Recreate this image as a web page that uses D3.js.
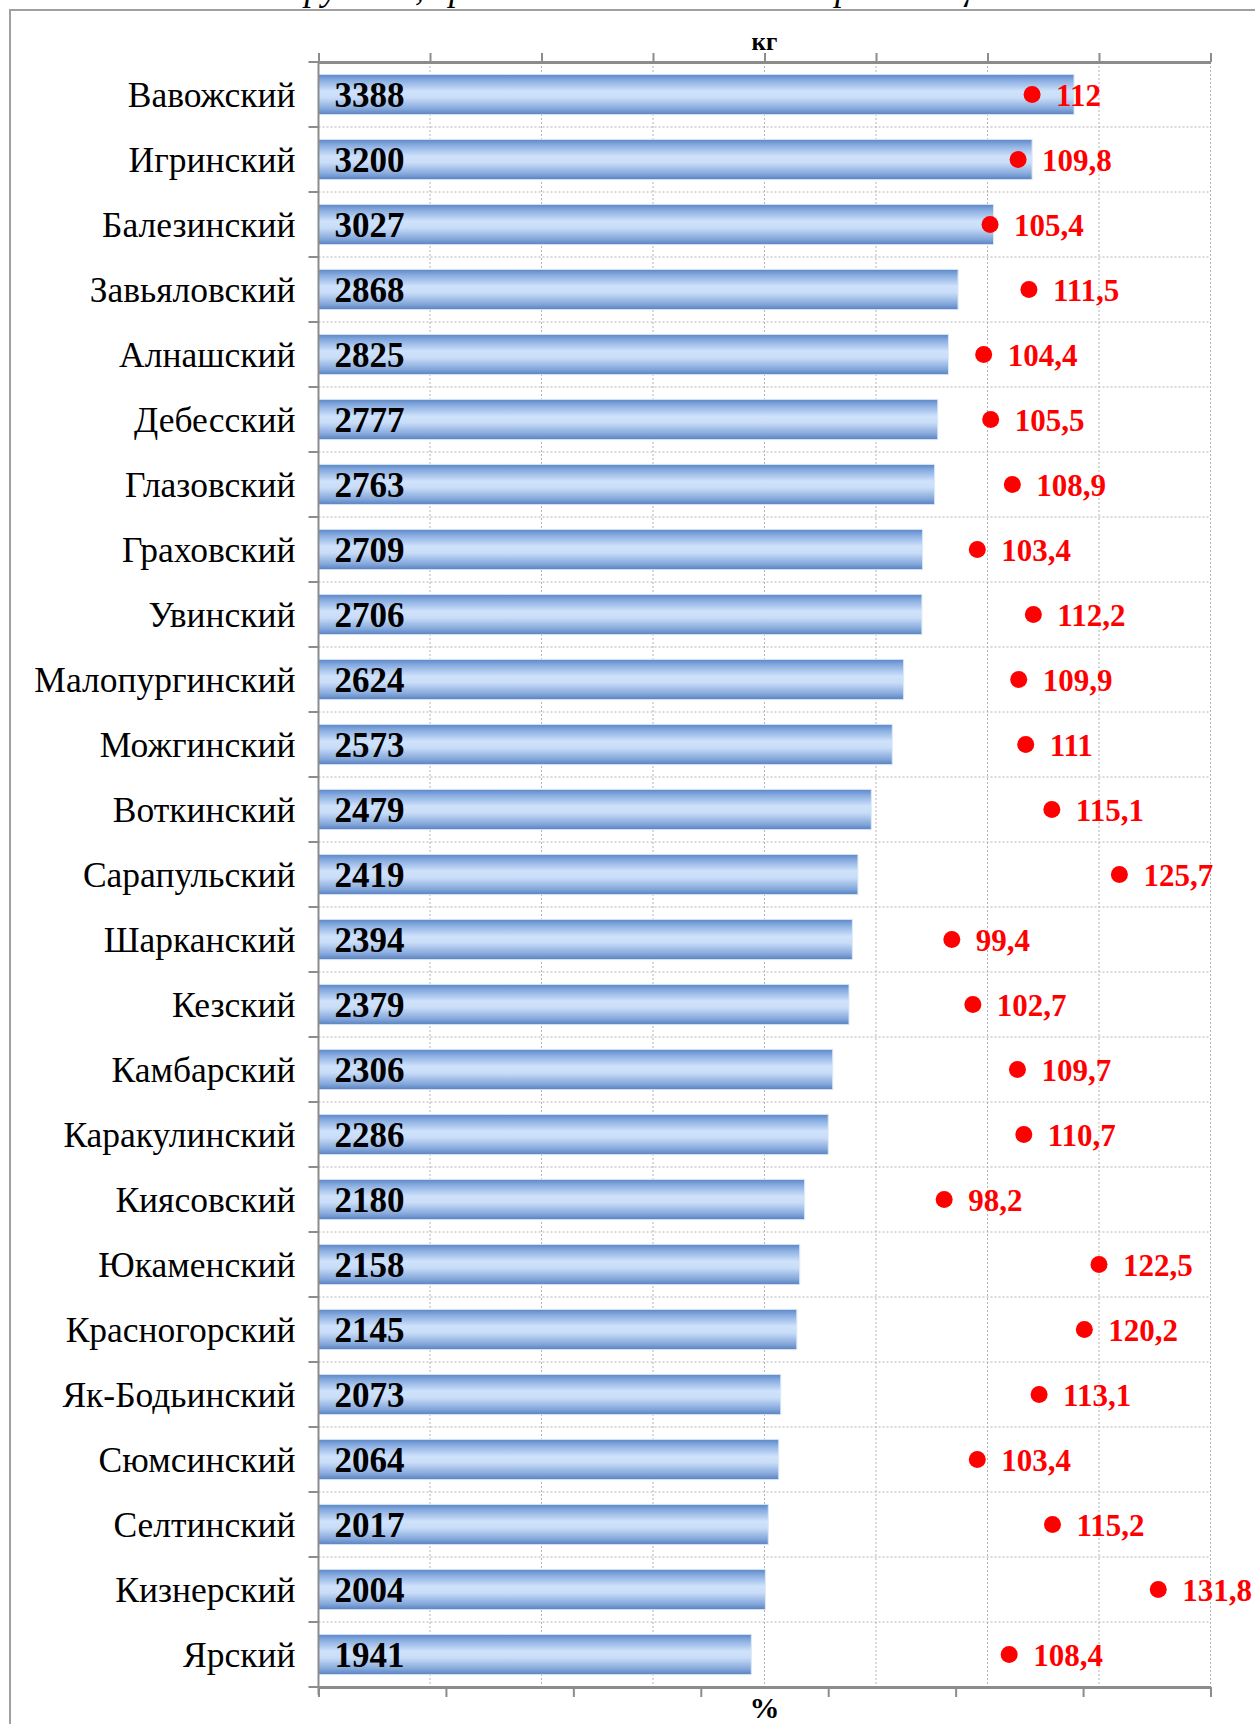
<!DOCTYPE html>
<html>
<head>
<meta charset="utf-8">
<script src="https://cdn.jsdelivr.net/npm/d3@7"></script>
<style>
  html, body { margin: 0; padding: 0; background: #fff; }
  svg { display: block; font-family: "Liberation Serif", "Times New Roman", serif; }
</style>
</head>
<body>
<svg width="1255" height="1724"></svg>
<script>
const width = 1255;
const height = 1724;

// Data
const districts = ['Вавожский', 'Игринский', 'Балезинский', 'Завьяловский', 'Алнашский',
  'Дебесский', 'Глазовский', 'Граховский', 'Увинский', 'Малопургинский', 'Можгинский',
  'Воткинский', 'Сарапульский', 'Шарканский', 'Кезский', 'Камбарский', 'Каракулинский',
  'Киясовский', 'Юкаменский', 'Красногорский', 'Як-Бодьинский', 'Сюмсинский',
  'Селтинский', 'Кизнерский', 'Ярский'];
const kgValues = [3388, 3200, 3027, 2868, 2825, 2777, 2763, 2709, 2706, 2624, 2573,
  2479, 2419, 2394, 2379, 2306, 2286, 2180, 2158, 2145, 2073, 2064, 2017, 2004, 1941];
const pctValues = [112, 109.8, 105.4, 111.5, 104.4, 105.5, 108.9, 103.4, 112.2, 109.9, 111,
  115.1, 125.7, 99.4, 102.7, 109.7, 110.7, 98.2, 122.5, 120.2, 113.1, 103.4, 115.2, 131.8, 108.4];
const kgTicks = [0, 500, 1000, 1500, 2000, 2500, 3000, 3500, 4000];
const pctTicks = [0, 20, 40, 60, 80, 100, 120, 140];

const rows = districts.map((name, i) => ({ name, kg: kgValues[i], pct: pctValues[i] }));

const plotLeft = 318.5, plotRight = 1210.5, plotTop = 62, plotBottom = 1687;
const axisColor = '#8c8c8c';
const gridColor = '#b4b4b4';

const svg = d3.select('svg');

// Outer frame (runs off the page to the right and bottom)
svg.append('rect')
  .attr('x', 10).attr('y', 10)
  .attr('width', 1300).attr('height', 1800)
  .attr('fill', 'none')
  .attr('stroke', '#a0a0a0')
  .attr('stroke-width', 2);

// Title, mostly cut off above the page (as in the source)
svg.append('text')
  .attr('x', 637).attr('y', 0)
  .attr('text-anchor', 'middle')
  .style('font-style', 'italic')
  .style('font-size', '36px')
  .text('по группам, средним и малым сельхозорганизациям');

const x = d3.scaleLinear().domain([0, 4000]).range([plotLeft, plotRight]);
const xPct = d3.scaleLinear().domain([0, 140]).range([plotLeft, plotRight]);
const y = d3.scaleBand()
  .domain(districts)
  .range([plotTop, plotBottom])
  .paddingInner(0.38)
  .paddingOuter(0.19);
const step = y.step();

// Gradient for bars
const defs = svg.append('defs');
const grad = defs.append('linearGradient')
  .attr('id', 'barGrad')
  .attr('x1', 0).attr('y1', 0).attr('x2', 0).attr('y2', 1);
[[0, '#5a86c6'], [0.14, '#87abe0'], [0.42, '#cfe2fb'], [0.58, '#c9ddf8'], [0.86, '#84a7db'], [1, '#5881c0']]
  .forEach(([o, c]) => grad.append('stop').attr('offset', o).attr('stop-color', c));

// Vertical gridlines (kg ticks)
svg.append('g')
  .selectAll('line')
  .data(kgTicks.slice(1))
  .join('line')
  .attr('x1', d => x(d)).attr('x2', d => x(d))
  .attr('y1', plotTop).attr('y2', plotBottom)
  .attr('stroke', gridColor)
  .attr('stroke-dasharray', '2,2');

// Horizontal gridlines at row boundaries
svg.append('g')
  .selectAll('line')
  .data(d3.range(1, districts.length))
  .join('line')
  .attr('x1', plotLeft).attr('x2', plotRight)
  .attr('y1', i => plotTop + i * step).attr('y2', i => plotTop + i * step)
  .attr('stroke', gridColor)
  .attr('stroke-dasharray', '2,2');

// Bars
svg.append('g')
  .selectAll('rect')
  .data(rows)
  .join('rect')
  .attr('x', x(0))
  .attr('y', d => y(d.name))
  .attr('width', d => x(d.kg) - x(0))
  .attr('height', y.bandwidth())
  .attr('fill', 'url(#barGrad)')
  .attr('stroke', '#dde9f7')
  .attr('stroke-width', 1);

// Bar value labels
svg.append('g')
  .selectAll('text')
  .data(rows)
  .join('text')
  .attr('x', x(0) + 16)
  .attr('y', d => y(d.name) + y.bandwidth() / 2)
  .attr('dy', '0.36em')
  .style('font-size', '35px')
  .style('font-weight', 'bold')
  .attr('fill', '#000')
  .text(d => d.kg);

// Red dots (percent)
svg.append('g')
  .selectAll('circle')
  .data(rows)
  .join('circle')
  .attr('cx', d => xPct(d.pct))
  .attr('cy', d => y(d.name) + y.bandwidth() / 2)
  .attr('r', 8.5)
  .attr('fill', '#ff0000');

svg.append('g')
  .selectAll('text')
  .data(rows)
  .join('text')
  .attr('x', d => xPct(d.pct) + 24)
  .attr('y', d => y(d.name) + y.bandwidth() / 2)
  .attr('dy', '0.36em')
  .style('font-size', '31px')
  .style('font-weight', 'bold')
  .attr('fill', '#ff0000')
  .text(d => String(d.pct).replace('.', ','));

// Category labels
svg.append('g')
  .selectAll('text')
  .data(rows)
  .join('text')
  .attr('x', plotLeft - 23)
  .attr('y', d => y(d.name) + y.bandwidth() / 2)
  .attr('dy', '0.36em')
  .attr('text-anchor', 'end')
  .style('font-size', '35.5px')
  .text(d => d.name);

// Top axis (kg)
const topAxis = svg.append('g')
  .attr('transform', `translate(0,${plotTop})`)
  .call(d3.axisTop(x).tickValues(kgTicks).tickSize(9).tickSizeOuter(0).tickFormat(''));

// Bottom axis (%)
const bottomAxis = svg.append('g')
  .attr('transform', `translate(0,${plotBottom})`)
  .call(d3.axisBottom(xPct).tickValues(pctTicks).tickSize(10).tickSizeOuter(0).tickFormat(''));

[topAxis, bottomAxis].forEach(g => {
  g.select('.domain').attr('stroke', axisColor).attr('stroke-width', 3);
  g.selectAll('.tick line').attr('stroke', axisColor).attr('stroke-width', 2);
});

// Left axis with ticks at row boundaries
const leftAxis = svg.append('g');
leftAxis.append('line')
  .attr('x1', plotLeft).attr('x2', plotLeft)
  .attr('y1', plotTop).attr('y2', plotBottom + 8)
  .attr('stroke', axisColor).attr('stroke-width', 2);
leftAxis.selectAll('line.tick')
  .data(d3.range(0, districts.length + 1))
  .join('line')
  .attr('class', 'tick')
  .attr('x1', plotLeft - 10).attr('x2', plotLeft)
  .attr('y1', i => plotTop + i * step).attr('y2', i => plotTop + i * step)
  .attr('stroke', axisColor).attr('stroke-width', 2);

// Axis titles
svg.append('text')
  .attr('x', (plotLeft + plotRight) / 2).attr('y', 50)
  .attr('text-anchor', 'middle')
  .style('font-size', '25px')
  .style('font-weight', 'bold')
  .text('кг');

svg.append('text')
  .attr('x', (plotLeft + plotRight) / 2).attr('y', 1718)
  .attr('text-anchor', 'middle')
  .style('font-size', '30px')
  .style('font-weight', 'bold')
  .text('%');
</script>
</body>
</html>
